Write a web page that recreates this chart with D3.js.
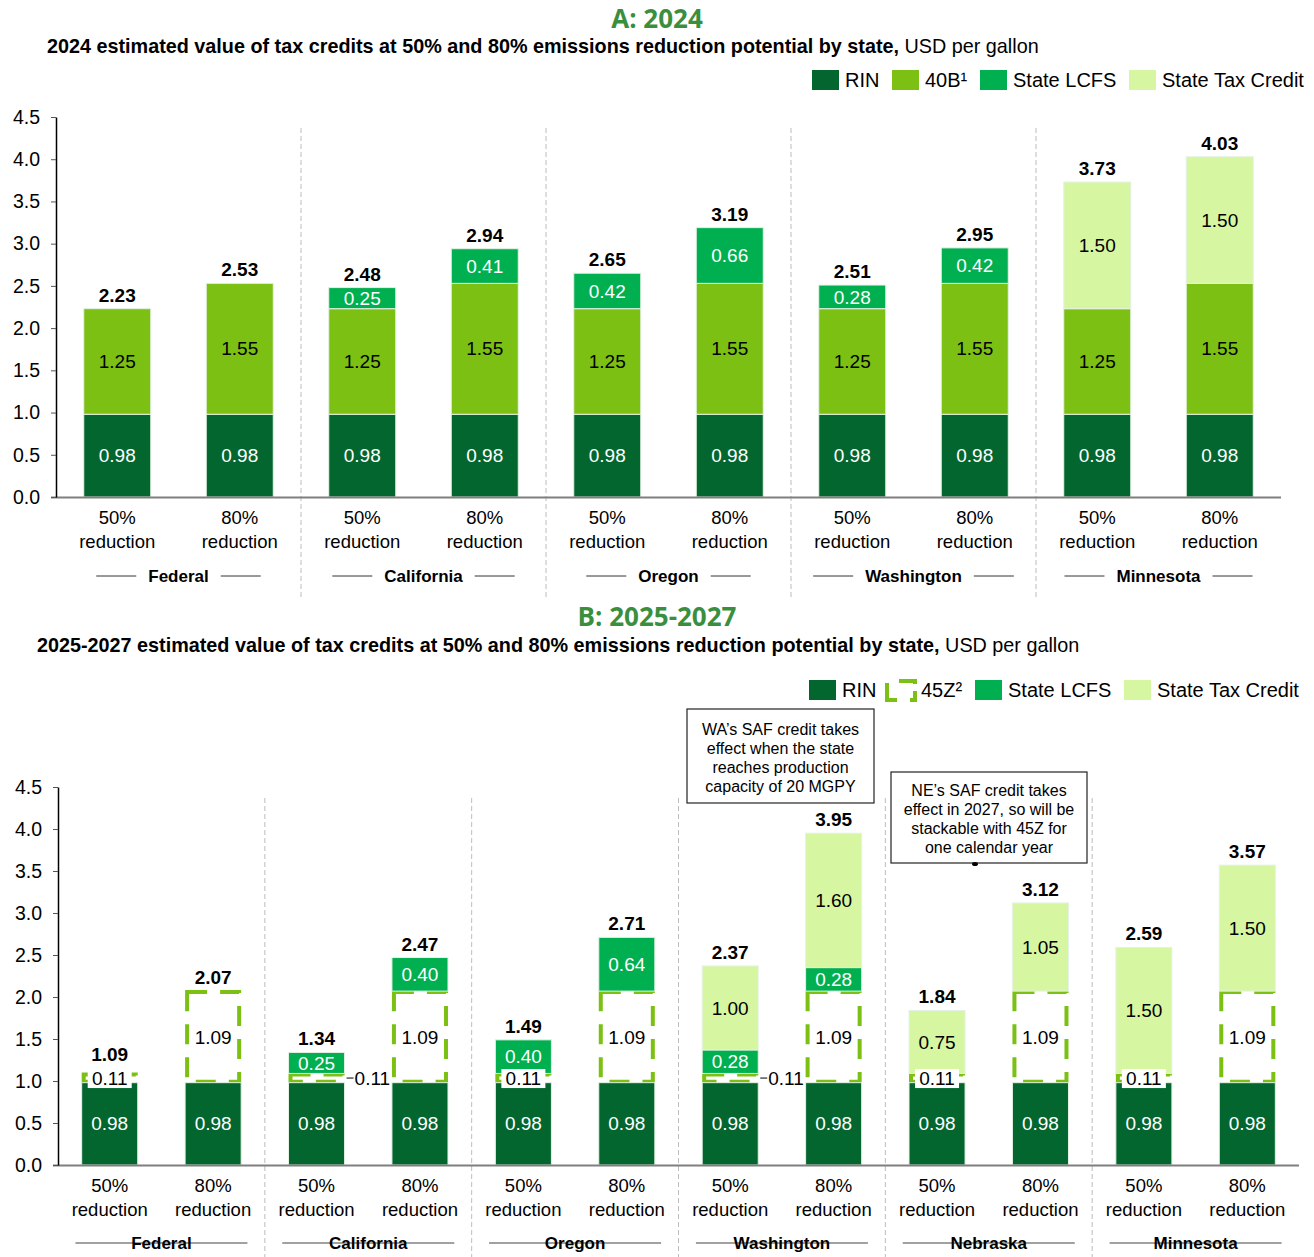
<!DOCTYPE html>
<html>
<head>
<meta charset="utf-8">
<script src="https://cdn.jsdelivr.net/npm/d3@7"></script>
<style>
  body { margin: 0; background: #fff; }
  svg { font-family: "Liberation Sans", Arial, sans-serif; }
</style>
</head>
<body>
<svg width="1314" height="1257"></svg>
<script>
// ---- data ----
var scenarios = ["50%", "80%"];
var yTicks = [0, 0.5, 1, 1.5, 2, 2.5, 3, 3.5, 4, 4.5];

// panel A: 2024
var groupsA = ["Federal", "California", "Oregon", "Washington", "Minnesota"];
var rinA = [0.98, 0.98, 0.98, 0.98, 0.98, 0.98, 0.98, 0.98, 0.98, 0.98];
var credit40B = [1.25, 1.55, 1.25, 1.55, 1.25, 1.55, 1.25, 1.55, 1.25, 1.55];
var lcfsA = [0, 0, 0.25, 0.41, 0.42, 0.66, 0.28, 0.42, 0, 0];
var stateTaxA = [0, 0, 0, 0, 0, 0, 0, 0, 1.50, 1.50];
var totalsA = [2.23, 2.53, 2.48, 2.94, 2.65, 3.19, 2.51, 2.95, 3.73, 4.03];

// panel B: 2025-2027
var groupsB = ["Federal", "California", "Oregon", "Washington", "Nebraska", "Minnesota"];
var rinB = [0.98, 0.98, 0.98, 0.98, 0.98, 0.98, 0.98, 0.98, 0.98, 0.98, 0.98, 0.98];
var credit45Z = [0.11, 1.09, 0.11, 1.09, 0.11, 1.09, 0.11, 1.09, 0.11, 1.09, 0.11, 1.09];
var lcfsB = [0, 0, 0.25, 0.40, 0.40, 0.64, 0.28, 0.28, 0, 0, 0, 0];
var stateTaxB = [0, 0, 0, 0, 0, 0, 1.00, 1.60, 0.75, 1.05, 1.50, 1.50];
var totalsB = [1.09, 2.07, 1.34, 2.47, 1.49, 2.71, 2.37, 3.95, 1.84, 3.12, 2.59, 3.57];
var outsideLabelB = [2, 6];   // bars whose 45Z label sits beside the bar

var noteWA = ["WA\u2019s SAF credit takes", "effect when the state", "reaches production", "capacity of 20 MGPY"];
var noteNE = ["NE\u2019s SAF credit takes", "effect in 2027, so will be", "stackable with 45Z for", "one calendar year"];

var colors = { rin: "#03662f", c40: "#7cc013", lcfs: "#00b050", stc: "#d7f6a2", title: "#3a8f3f" };

var svg = d3.select("svg");

function stackPanel(o) {
  var n = o.groups.length * 2;
  var x = d3.scaleBand().domain(d3.range(n)).range([o.x0, o.x1])
      .paddingInner(o.pad).paddingOuter(o.pad / 2);
  var y = d3.scaleLinear().domain([0, 4.5]).range([o.yBase, o.yTop]);
  var g = svg.append("g");

  // title + subtitle
  g.append("text").attr("x", 657).attr("y", o.titleY).attr("text-anchor", "middle")
    .style("font-family", "'Open Sans', sans-serif").style("font-weight", "bold")
    .style("font-size", "26px").style("fill", colors.title).text(o.title);
  var sub = g.append("text").attr("x", o.subX).attr("y", o.subY).style("font-size", "19.8px");
  sub.append("tspan").style("font-weight", "bold").text(o.subtitle);
  sub.append("tspan").text(" USD per gallon");

  // legend
  o.legend.forEach(function(d) {
    if (d.dashed) {
      // corner-bracket icon for the 45Z outline
      var p = d3.path();
      p.moveTo(d.x + 2, d.x * 0 + o.legY + 3); p.lineTo(d.x + 2, o.legY + 20); p.lineTo(d.x + 12, o.legY + 20);
      p.moveTo(d.x + 14, o.legY + 1); p.lineTo(d.x + 30, o.legY + 1); p.lineTo(d.x + 30, o.legY + 4);
      p.moveTo(d.x + 30, o.legY + 11); p.lineTo(d.x + 30, o.legY + 20); p.lineTo(d.x + 25, o.legY + 20);
      g.append("path").attr("d", p.toString()).attr("fill", "none")
        .attr("stroke", colors.c40).attr("stroke-width", 4);
    } else {
      g.append("rect").attr("x", d.x).attr("y", o.legY).attr("width", 27).attr("height", 20)
        .attr("fill", d.fill);
    }
    g.append("text").attr("x", d.x + (d.dashed ? 36 : 33)).attr("y", o.legY + 17)
      .style("font-size", "20px").text(d.label);
  });

  // dashed separators between groups
  for (var k = 1; k < o.groups.length; k++) {
    var sx = o.x0 + x.step() * 2 * k;
    g.append("line").attr("x1", sx).attr("x2", sx).attr("y1", o.sepTop).attr("y2", o.sepBottom)
      .attr("stroke", "#bdbdbd").attr("stroke-width", 1).attr("stroke-dasharray", "5,3");
  }

  var dashLayer = g.append("g"), solidLayer = g.append("g"), labelLayer = g.append("g");
  d3.range(n).forEach(function(i) {
    var cum = 0, bx = x(i), bw = x.bandwidth();
    var totalY = y(o.totals[i]) - 7;
    o.series.forEach(function(s) {
      var v = s.values[i];
      if (!v) return;
      var top = y(cum + v), bot = y(cum);
      cum += v;
      if (s.dashed) {
        dashLayer.append("rect").attr("x", bx + 2).attr("y", top + 1).attr("width", bw - 4)
          .attr("height", Math.max(bot - top - 2, 1)).attr("fill", "#fff")
          .attr("stroke", colors.c40).attr("stroke-width", 4).attr("stroke-dasharray", "20,13");
      } else {
        solidLayer.append("rect").attr("x", bx).attr("y", top).attr("width", bw).attr("height", bot - top)
          .attr("fill", s.fill).attr("stroke", "#e4f2e4").attr("stroke-width", 1);
      }
      var cy = (top + bot) / 2;
      if (s.dashed && o.outside && o.outside.indexOf(i) >= 0) {
        labelLayer.append("line").attr("x1", bx + bw + 2).attr("x2", bx + bw + 9)
          .attr("y1", cy).attr("y2", cy).attr("stroke", "#000").attr("stroke-width", 1);
        labelLayer.append("text").attr("x", bx + bw + 10).attr("y", cy).attr("dy", "0.35em")
          .style("font-size", "19px").text(v.toFixed(2));
        return;
      }
      if (s.dashed && bot - top < 20) {
        labelLayer.append("rect").attr("x", bx + bw / 2 - 22).attr("y", cy - 9).attr("width", 44)
          .attr("height", 19).attr("fill", "#fff");
        totalY = Math.min(totalY, cy - 17);
      }
      labelLayer.append("text").attr("x", bx + bw / 2).attr("y", cy).attr("dy", "0.35em")
        .attr("text-anchor", "middle").style("font-size", "19px").style("fill", s.text)
        .text(v.toFixed(2));
    });
    labelLayer.append("text").attr("x", bx + bw / 2).attr("y", totalY)
      .attr("text-anchor", "middle").style("font-size", "19px").style("font-weight", "bold")
      .text(o.totals[i].toFixed(2));

    // category label
    var cl = g.append("text").attr("text-anchor", "middle").style("font-size", "18.5px");
    cl.append("tspan").attr("x", bx + bw / 2).attr("y", o.catY).text(scenarios[i % 2]);
    cl.append("tspan").attr("x", bx + bw / 2).attr("y", o.catY + 24).text("reduction");
  });

  // axes
  g.append("line").attr("x1", o.x0 - 5).attr("x2", o.x1).attr("y1", o.yBase + 0.5).attr("y2", o.yBase + 0.5)
    .attr("stroke", "#7f7f7f").attr("stroke-width", 2);
  var ya = g.append("g").attr("transform", "translate(" + o.x0 + ",0)")
    .call(d3.axisLeft(y).tickValues(yTicks).tickFormat(d3.format(".1f")).tickSize(5).tickSizeOuter(0));
  ya.select(".domain").attr("stroke", "#000").attr("stroke-width", 1.5);
  ya.selectAll(".tick line").attr("stroke", "#555");
  ya.selectAll(".tick text").style("font-size", "19.5px").style("font-family", "'Liberation Sans', Arial, sans-serif")
    .attr("fill", "#000").attr("x", -16);

  // group labels
  o.groups.forEach(function(name, k) {
    var cx = o.x0 + x.step() * (2 * k + 1);
    if (o.strike) {
      g.append("line").attr("x1", cx - 86).attr("x2", cx + 86).attr("y1", o.groupY - 6).attr("y2", o.groupY - 6)
        .attr("stroke", "#444").attr("stroke-width", 1.2);
    }
    var t = g.append("text").attr("x", cx).attr("y", o.groupY).attr("text-anchor", "middle")
      .style("font-size", "17px").style("font-weight", "bold").text(name);
    if (!o.strike) {
      var w = t.node().getComputedTextLength();
      [-1, 1].forEach(function(sgn) {
        var a = cx + sgn * (w / 2 + 12), b = cx + sgn * (w / 2 + 52);
        g.append("line").attr("x1", a).attr("x2", b).attr("y1", o.groupY - 6).attr("y2", o.groupY - 6)
          .attr("stroke", "#333").attr("stroke-width", 1);
      });
    }
  });
  return { x: x, y: y, g: g };
}

stackPanel({
  title: "A: 2024", titleY: 28,
  subtitle: "2024 estimated value of tax credits at 50% and 80% emissions reduction potential by state,",
  subX: 47, subY: 53,
  legY: 70,
  legend: [
    { x: 812, fill: colors.rin, label: "RIN" },
    { x: 892, fill: colors.c40, label: "40B\u00b9" },
    { x: 980, fill: colors.lcfs, label: "State LCFS" },
    { x: 1129, fill: colors.stc, label: "State Tax Credit" }
  ],
  groups: groupsA, pad: 0.453, x0: 56, x1: 1281, yBase: 497, yTop: 117,
  sepTop: 128, sepBottom: 598, catY: 524, groupY: 582, strike: false,
  series: [
    { values: rinA, fill: colors.rin, text: "#fff" },
    { values: credit40B, fill: colors.c40, text: "#000" },
    { values: lcfsA, fill: colors.lcfs, text: "#fff" },
    { values: stateTaxA, fill: colors.stc, text: "#000" }
  ],
  totals: totalsA
});

var pB = stackPanel({
  title: "B: 2025-2027", titleY: 626,
  subtitle: "2025-2027 estimated value of tax credits at 50% and 80% emissions reduction potential by state,",
  subX: 37, subY: 652,
  legY: 680,
  legend: [
    { x: 809, fill: colors.rin, label: "RIN" },
    { x: 885, dashed: true, label: "45Z\u00b2" },
    { x: 975, fill: colors.lcfs, label: "State LCFS" },
    { x: 1124, fill: colors.stc, label: "State Tax Credit" }
  ],
  groups: groupsB, pad: 0.458, x0: 58, x1: 1299, yBase: 1165, yTop: 787,
  sepTop: 798, sepBottom: 1257, catY: 1192, groupY: 1249, strike: true, outside: outsideLabelB,
  series: [
    { values: rinB, fill: colors.rin, text: "#fff" },
    { values: credit45Z, dashed: true, text: "#000" },
    { values: lcfsB, fill: colors.lcfs, text: "#fff" },
    { values: stateTaxB, fill: colors.stc, text: "#000" }
  ],
  totals: totalsB
});

// annotation boxes
function note(lines, bx, by, bw, bh, firstY) {
  pB.g.append("rect").attr("x", bx).attr("y", by).attr("width", bw).attr("height", bh)
    .attr("fill", "#fff").attr("stroke", "#222").attr("stroke-width", 1.2);
  var t = pB.g.append("text").attr("text-anchor", "middle").style("font-size", "16px");
  lines.forEach(function(l, j) {
    t.append("tspan").attr("x", bx + bw / 2).attr("y", firstY + j * 19).text(l);
  });
}
note(noteWA, 687, 709, 187, 94, 735);
note(noteNE, 891, 772, 196, 91, 796);
pB.g.append("ellipse").attr("cx", 975).attr("cy", 864).attr("rx", 3).attr("ry", 2).attr("fill", "#000");
</script>
</body>
</html>
